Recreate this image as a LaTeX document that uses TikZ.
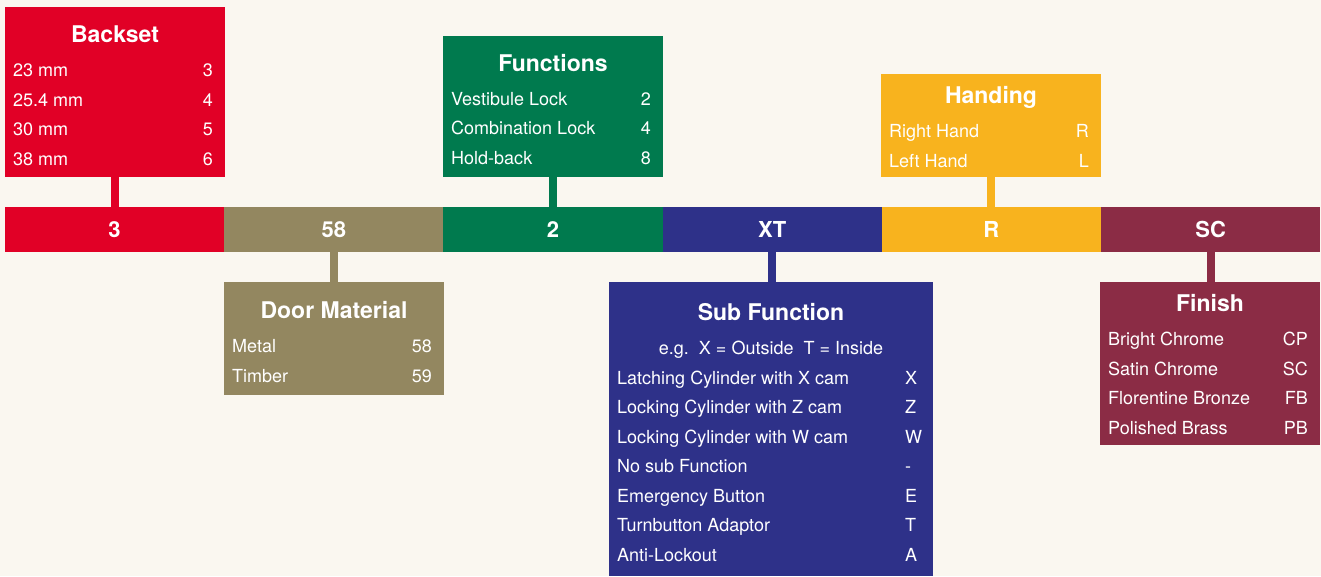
\documentclass[tikz,border=0pt]{standalone}
\usepackage{fontspec}
\setmainfont{TeX Gyre Heros}
\usetikzlibrary{positioning,calc}
\definecolor{bg}{HTML}{FAF7F0}
\definecolor{cred}{HTML}{E10026}
\definecolor{ctan}{HTML}{938760}
\definecolor{cgreen}{HTML}{007A4E}
\definecolor{cblue}{HTML}{2E3189}
\definecolor{cyellow}{HTML}{F8B31E}
\definecolor{cmaroon}{HTML}{8B2C45}
\tikzset{
  seg/.style={rectangle, minimum width=219.2pt, minimum height=45pt, inner sep=0pt, outer sep=0pt, text centered, fill=#1, text=white, font=\bfseries\fontsize{22}{22}\selectfont},
  box/.style={rectangle, anchor=north west, inner sep=0pt, outer sep=0pt, fill=#1},
  ttl/.style={anchor=base, inner sep=0pt, text=white, font=\bfseries\fontsize{23}{23}\selectfont},
  lbl/.style={anchor=base west, inner sep=0pt, text=white, font=\fontsize{18}{18}\selectfont},
  val/.style={anchor=base east, inner sep=0pt, text=white, font=\fontsize{18}{18}\selectfont},
  lnk/.style={line width=8pt, draw=#1},
  node distance=0pt
}
\begin{document}
\begin{tikzpicture}[x=1pt,y=-1pt]
	\fill[bg] (0,0) rectangle (1321,576);
	\useasboundingbox (0,0) rectangle (1321,576);

	% code bar
	\node[seg=cred, anchor=north west] (bs) at (5,207) {3};
	\node[seg=ctan, right=of bs] (dm) {58};
	\node[seg=cgreen, right=of dm] (fn) {2};
	\node[seg=cblue, right=of fn] (sf) {XT};
	\node[seg=cyellow, right=of sf] (hd) {R};
	\node[seg=cmaroon, right=of hd] (fi) {SC};

	% boxes
	\node[box=cred, minimum width=220pt, minimum height=170pt] (bsbox) at (5,7) {};
	\node[box=cgreen, minimum width=220pt, minimum height=141pt] (fnbox) at (443,36) {};
	\node[box=cyellow, minimum width=220pt, minimum height=103pt] (hdbox) at (881,74) {};
	\node[box=ctan, minimum width=220pt, minimum height=113pt] (dmbox) at (224,282) {};
	\node[box=cblue, minimum width=324pt, minimum height=294pt] (sfbox) at (609,282) {};
	\node[box=cmaroon, minimum width=220pt, minimum height=163pt] (fibox) at (1100,282) {};

	\draw[lnk=cred] (bsbox.south) -- (bsbox.south |- bs.north);
	\draw[lnk=cgreen] (fnbox.south) -- (fnbox.south |- fn.north);
	\draw[lnk=cyellow] (hdbox.south) -- (hdbox.south |- hd.north);
	\draw[lnk=ctan] (dm.south) -- (dm.south |- dmbox.north);
	\draw[lnk=cblue] (sf.south) -- (sf.south |- sfbox.north);
	\draw[lnk=cmaroon] (fi.south) -- (fi.south |- fibox.north);

	% titles
	\node[ttl] (bstitle) at ($(bsbox.north)+(0,35)$) {Backset};
	\node[ttl] (fntitle) at ($(fnbox.north)+(0,35)$) {Functions};
	\node[ttl] (hdtitle) at ($(hdbox.north)+(0,29)$) {Handing};
	\node[ttl] (dmtitle) at ($(dmbox.north)+(0,36)$) {Door Material};
	\node[ttl] (sftitle) at ($(sfbox.north)+(0,38)$) {Sub Function};
	\node[ttl] (fititle) at ($(fibox.north)+(0,29)$) {Finish};

	% rows
	\foreach \t/\v [count=\i] in {23 mm/3, 25.4 mm/4, 30 mm/5, 38 mm/6} {
		\node[lbl] (bsl\i) at ($(bsbox.north west)+(8,{69.5+29.5*(\i-1)})$) {\t};
		\node[val] (bsv\i) at ($(bsbox.north east)+(-12,{69.5+29.5*(\i-1)})$) {\v};
	}
	\foreach \t/\v [count=\i] in {Vestibule Lock/2, Combination Lock/4, Hold-back/8} {
		\node[lbl] (fnl\i) at ($(fnbox.north west)+(8,{69+29.5*(\i-1)})$) {\t};
		\node[val] (fnv\i) at ($(fnbox.north east)+(-12,{69+29.5*(\i-1)})$) {\v};
	}
	\foreach \t/\v [count=\i] in {Right Hand/R, Left Hand/L} {
		\node[lbl] (hdl\i) at ($(hdbox.north west)+(8,{63.5+29.5*(\i-1)})$) {\t};
		\node[val] (hdv\i) at ($(hdbox.north east)+(-12,{63.5+29.5*(\i-1)})$) {\v};
	}
	\foreach \t/\v [count=\i] in {Metal/58, Timber/59} {
		\node[lbl] (dml\i) at ($(dmbox.north west)+(8,{70.5+29.5*(\i-1)})$) {\t};
		\node[val] (dmv\i) at ($(dmbox.north east)+(-12,{70.5+29.5*(\i-1)})$) {\v};
	}
	\node[lbl, anchor=base] (sfeg) at ($(sfbox.north)+(0,72)$) {e.g.\ \ X = Outside\ \ T = Inside};
	\foreach \t/\v [count=\i] in {Latching Cylinder with X cam/X, Locking Cylinder with Z cam/Z, Locking Cylinder with W cam/W, No sub Function/-, Emergency Button/E, Turnbutton Adaptor/T, Anti-Lockout/A} {
		\node[lbl] (sfl\i) at ($(sfbox.north west)+(8,{102+29.5*(\i-1)})$) {\t};
		\node[lbl] (sfv\i) at ($(sfbox.north west)+(296,{102+29.5*(\i-1)})$) {\v};
	}
	\foreach \t/\v [count=\i] in {Bright Chrome/CP, Satin Chrome/SC, Florentine Bronze/FB, Polished Brass/PB} {
		\node[lbl] (fil\i) at ($(fibox.north west)+(8,{63.5+29.5*(\i-1)})$) {\t};
		\node[val] (fiv\i) at ($(fibox.north east)+(-12,{63.5+29.5*(\i-1)})$) {\v};
	}
\end{tikzpicture}
\end{document}
